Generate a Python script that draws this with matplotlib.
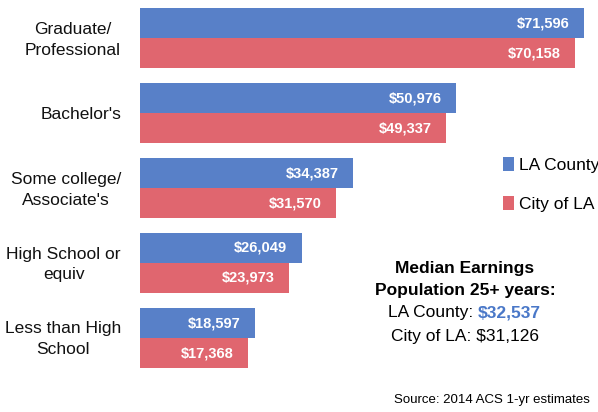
import matplotlib.pyplot as plt
from matplotlib.transforms import blended_transform_factory

plt.rcParams['font.family'] = ['Liberation Sans', 'DejaVu Sans']

# data
categories = ['Graduate/\nProfessional', "Bachelor's", 'Some college/\nAssociate\'s',
              'High School or\nequiv', 'Less than High\nSchool']
la_county = [71596, 50976, 34387, 26049, 18597]
city_la = [70158, 49337, 31570, 23973, 17368]

blue = '#5880c8'
red = '#e0666f'

fig = plt.figure(figsize=(5.98, 4.12), dpi=100)
ax = fig.add_axes([140 / 598, 1 - 368 / 412, 452 / 598, 360 / 412])

pos = list(range(len(categories)))
h = 0.4
ax.barh([p - h / 2 for p in pos], la_county, height=h, color=blue, label='LA County')
ax.barh([p + h / 2 for p in pos], city_la, height=h, color=red, label='City of LA')

#value labels inside the bar ends
for p, v in zip(pos, la_county):
    ax.text(v - 2300, p - h / 2, f'${v:,}', color='white', fontsize=10.5,
            fontweight='bold', ha='right', va='center')
for p, v in zip(pos, city_la):
    ax.text(v - 2300, p + h / 2, f'${v:,}', color='white', fontsize=10.5,
            fontweight='bold', ha='right', va='center')

ax.set_xlim(0, 452 / 6.2 * 1000)
ax.set_ylim(len(categories) - 1 + h, -h)
ax.axis('off')

#category labels
trans = blended_transform_factory(fig.transFigure, ax.transData)
for p, c in zip(pos, categories):
    ax.text(121 / 598, p + 0.02, c, fontsize=12.5, ha='right', multialignment='center',
            va='center', color='#111111', linespacing=1.5, transform=trans)

fig.legend(loc='upper left', bbox_to_anchor=(503 / 598, 1 - 157 / 412), frameon=False,
           fontsize=12.5, handlelength=0.65, handleheight=0.9, handletextpad=0.25,
           labelspacing=1.3, borderaxespad=0, borderpad=0)

#summary text
cx = 465 / 598
fig.text(cx, 1 - 268 / 412, 'Median Earnings', fontsize=12.5, fontweight='bold',
         ha='center', va='center')
fig.text(cx, 1 - 291 / 412, 'Population 25+ years:', fontsize=12.5, fontweight='bold',
         ha='center', va='center')
fig.text(478 / 598, 1 - 313 / 412, 'LA County: ', fontsize=12.5,
         ha='right', va='center')
fig.text(478 / 598, 1 - 313 / 412, '$32,537', fontsize=12.5, fontweight='bold',
         color='#4a78c8', ha='left', va='center')
fig.text(cx, 1 - 336 / 412, 'City of LA: $31,126', fontsize=12.5,
         ha='center', va='center')

fig.text(590 / 598, 1 - 400 / 412, 'Source: 2014 ACS 1-yr estimates', fontsize=9.5,
         ha='right', va='center')

fig.savefig('out.png', dpi=100)
